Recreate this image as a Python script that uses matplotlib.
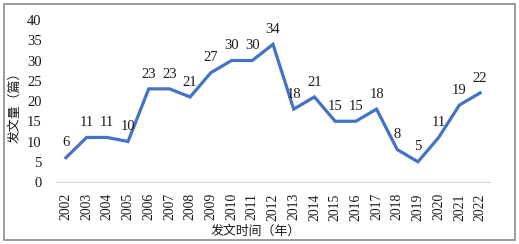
import matplotlib.pyplot as plt
from matplotlib.patches import Rectangle

years = ['2002', '2003', '2004', '2005', '2006', '2007', '2008', '2009', '2010', '2011',
         '2012', '2013', '2014', '2015', '2016', '2017', '2018', '2019', '2020', '2021', '2022']
counts = [6, 11, 11, 10, 23, 23, 21, 27, 30, 30, 34, 18, 21, 15, 15, 18, 8, 5, 11, 19, 22]
y_ticks = [0, 5, 10, 15, 20, 25, 30, 35, 40]

plt.rcParams['font.family'] = ['Liberation Serif', 'Noto Sans CJK SC', 'DejaVu Sans']

fig = plt.figure(figsize=(5.19, 2.44), dpi=100)
ax = fig.add_axes([0.107, 0.254, 0.838, 0.664])

x = list(range(len(years)))
ax.plot(x, counts, color='#4472C4', linewidth=2.3, solid_joinstyle='miter')
for xi, val in zip(x, counts):
    ax.annotate(str(val), (xi, val), xytext=(0, 6), textcoords='offset points',
                ha='center', va='bottom', fontsize=10.5, color='#1a1a1a')

ax.set_xlim(-0.5, len(years) - 0.5)
ax.set_ylim(0, 40)
ax.set_yticks(y_ticks)
ax.set_xticks(x)
ax.set_xticklabels(years, rotation=90, fontsize=9.8, color='#1a1a1a')
ax.set_yticklabels([str(v) for v in y_ticks], fontsize=10.5, color='#1a1a1a')
ax.tick_params(axis='both', length=0)
ax.tick_params(axis='y', pad=10)
ax.tick_params(axis='x', pad=8)

for s in ['top', 'right', 'left']:
    ax.spines[s].set_visible(False)
ax.spines['bottom'].set_color('#D9D9D9')
ax.spines['bottom'].set_linewidth(0.8)

fig.text(15 / 519, 1 - 104 / 244, '发文量（篇）', rotation=90, ha='center', va='center',
         fontsize=9.3, family=['Noto Sans CJK SC', 'DejaVu Sans'], color='#1a1a1a')
fig.text(256 / 519, 1 - 231 / 244, '发文时间（年）', ha='center', va='center',
         fontsize=9.3, family=['Noto Sans CJK SC', 'DejaVu Sans'], color='#1a1a1a')

fig.patches.append(Rectangle((4 / 519, 4 / 244), 511 / 519, 236 / 244, transform=fig.transFigure,
                             fill=False, edgecolor='#8C8C8C', linewidth=1.2))

fig.savefig('out.png', dpi=100)
plt.close()
